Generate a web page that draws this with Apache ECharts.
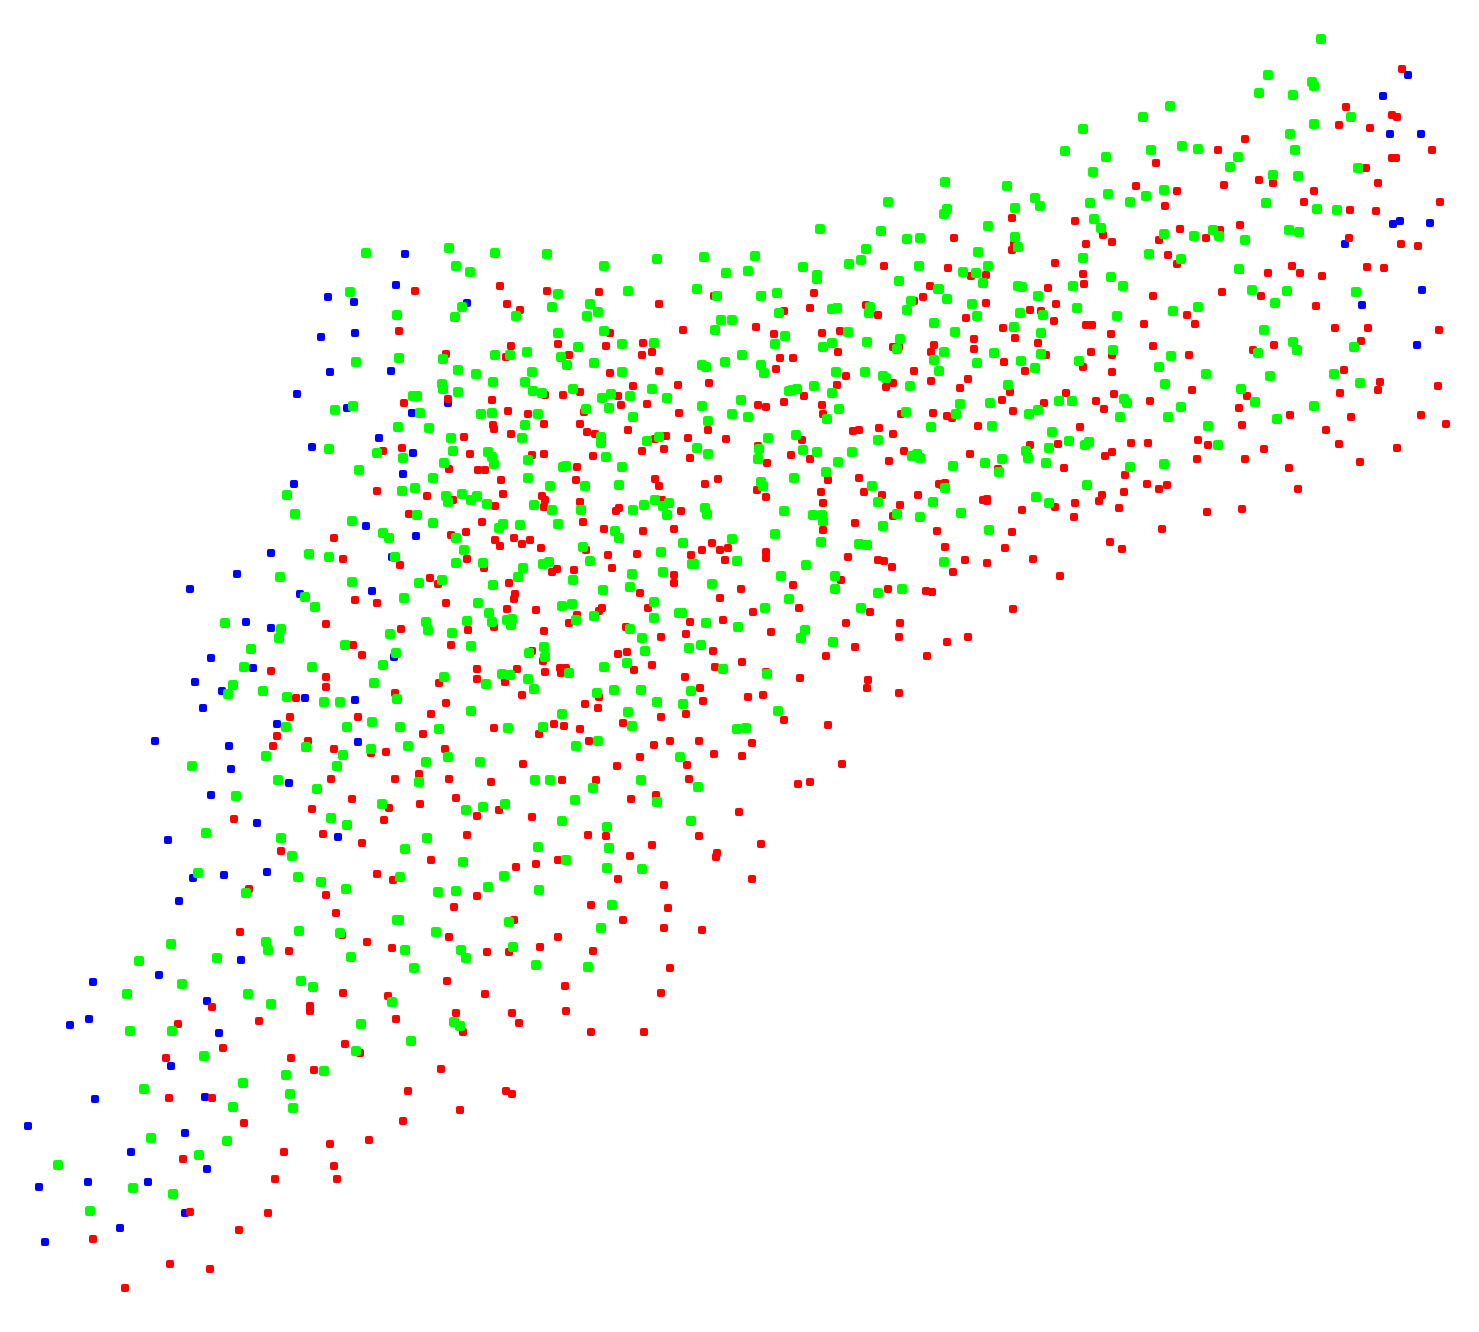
<!DOCTYPE html>
<html>
<head>
<meta charset="utf-8">
<title>scatter</title>
<script src="https://cdn.jsdelivr.net/npm/echarts@6/dist/echarts.min.js"></script>
<style>
html, body { margin: 0; padding: 0; background: #fff; }
#main { width: 1479px; height: 1332px; filter: blur(0.6px); }
</style>
</head>
<body>
<div id="main"></div>
<script>
// values, [x, y]
const bluePoints = [
[179,901],[241,960],[159,975],[93,982],[207,1001],[89,1019],[70,1025],[219,1033],[171,1066],[95,1099],[205,1097],[28,1126],[185,1133],[131,1152],[207,1169],[88,1182],[148,1182],[39,1187],[185,1213],[120,1228],[45,1242],
[271,553],[237,574],[190,589],[300,594],[372,591],[246,622],[271,628],[211,658],[253,668],[195,682],[222,691],[305,698],[355,700],[203,708],[277,724],[155,741],[229,746],[358,742],[231,769],[289,783],[211,795],[257,823],[168,840],[338,837],[193,878],[224,875],[267,872],
[328,297],[354,302],[355,333],[321,337],[330,372],[297,394],[347,408],[379,438],[312,447],[294,484],[366,526],
[405,254],[396,285],[467,303],[391,371],[457,370],[448,403],[412,413],[413,453],[403,474],[416,536],[392,557],[394,657],
[1408,75],[1383,96],[1390,134],[1421,134],[1393,224],[1400,221],[1430,223],[1345,244],[1422,290],[1362,305],[1417,345]
];
const redPoints = [
[336,913],[240,932],[342,935],[289,951],[367,942],[392,948],[343,993],[388,996],[212,1007],[310,1006],[310,1011],[259,1021],[396,1019],[178,1024],[223,1048],[345,1044],[360,1053],[166,1058],[291,1058],[314,1070],[169,1098],[212,1098],[244,1123],[369,1140],[330,1144],[284,1152],[183,1159],[334,1166],[275,1179],[337,1179],[190,1212],[268,1213],[239,1230],[93,1239],[170,1264],[210,1269],[125,1288],
[334,538],[343,559],[355,600],[377,603],[326,624],[353,645],[362,655],[271,671],[326,677],[326,687],[296,698],[290,717],[358,717],[277,736],[273,746],[308,741],[334,749],[371,753],[331,779],[352,799],[312,809],[234,819],[323,834],[362,843],[281,851],[377,874],[249,889],[326,895],[377,491],
[415,291],[500,286],[547,291],[599,292],[659,304],[507,304],[520,310],[399,331],[610,333],[511,346],[558,344],[606,346],[643,343],[642,355],[652,352],[446,354],[506,357],[569,355],[610,373],[659,371],[633,386],[448,399],[492,400],[404,403],[545,395],[563,395],[580,392],[618,396],[621,405],[647,404],[584,412],[508,411],[528,414],[493,425],[494,429],[544,424],[580,424],[587,432],[595,434],[628,430],[511,434],[464,437],[402,448],[383,451],[470,454],[532,455],[544,454],[593,456],[642,451],[655,439],[666,436],[664,449],[449,469],[478,470],[485,470],[577,467],[501,480],[576,480],[655,479],[659,486],[427,496],[503,494],[542,496],[545,500],[544,507],[580,502],[662,500],[453,500],[495,506],[409,514],[619,508],[616,511],
[482,522],[583,522],[466,532],[451,535],[604,529],[643,531],[674,529],[495,540],[514,538],[530,540],[500,546],[522,544],[541,548],[586,550],[608,555],[637,554],[467,559],[400,565],[484,568],[612,568],[557,569],[552,572],[574,570],[430,578],[438,584],[509,583],[674,575],[674,583],[640,593],[515,594],[514,599],[446,603],[507,609],[536,610],[648,608],[602,608],[599,611],[577,615],[569,623],[494,627],[401,629],[468,630],[544,631],[626,627],[661,637],[451,645],[532,651],[618,654],[627,652],[543,661],[652,665],[517,669],[477,669],[560,668],[566,668],[634,670],[545,672],[561,673],[477,679],[439,683],[505,682],[395,693],[522,695],[599,697],[446,703],[585,704],[598,708],[431,714],[661,717],[494,728],[554,724],[564,726],[580,729],[623,723],[423,734],[539,734],[589,741],[670,741],[654,745],[386,752],[445,749],[640,757],[523,764],[617,766],[419,774],[395,779],[449,779],[562,780],[596,780],[491,782],[456,798],[656,795],[631,799],
[389,808],[420,804],[477,816],[499,810],[532,817],[384,820],[588,835],[606,836],[739,812],[699,836],[652,845],[467,835],[630,856],[761,844],[717,853],[716,857],[431,860],[558,860],[536,864],[516,867],[618,879],[664,885],[752,879],[393,880],[477,896],[454,907],[591,905],[668,908],[514,920],[623,920],[664,928],[702,930],[449,937],[558,937],[540,947],[487,952],[509,952],[593,951],[670,968],[447,981],[565,986],[485,994],[661,993],[456,1013],[512,1013],[566,1011],[519,1023],[463,1032],[591,1032],[644,1032],[441,1069],[408,1091],[506,1091],[512,1094],[460,1110],[403,1121],
[884,266],[930,286],[714,296],[762,295],[814,293],[923,297],[914,301],[866,305],[810,308],[784,311],[878,315],[683,330],[756,327],[774,334],[822,333],[840,331],[934,345],[893,347],[899,347],[931,352],[838,352],[780,358],[793,358],[776,369],[914,371],[846,376],[678,385],[709,383],[893,383],[837,385],[931,381],[886,387],[804,396],[784,402],[758,405],[766,407],[822,405],[679,413],[823,414],[901,414],[933,413],[708,430],[853,431],[859,430],[879,428],[893,434],[688,438],[726,439],[802,440],[758,446],[904,451],[690,458],[791,455],[767,463],[810,459],[889,461],[859,478],[718,479],[705,484],[828,480],[757,490],[766,497],[821,492],[864,492],[882,495],[918,495],[939,484],
[823,503],[900,505],[681,511],[893,516],[855,523],[823,530],[937,531],[712,543],[702,550],[720,550],[728,548],[945,547],[691,555],[766,552],[766,558],[848,557],[725,560],[878,560],[884,561],[892,567],[965,560],[953,572],[841,580],[793,585],[741,589],[720,598],[888,589],[926,591],[932,592],[799,608],[753,612],[870,612],[690,622],[723,620],[846,623],[900,623],[771,632],[686,634],[899,637],[968,637],[947,642],[713,651],[855,647],[826,656],[927,656],[742,662],[715,667],[685,677],[766,672],[800,678],[868,680],[867,688],[700,688],[899,693],[703,701],[748,697],[763,695],[686,714],[784,720],[828,725],[699,741],[752,743],[714,754],[742,756],[687,765],[842,764],[689,779],[798,784],[810,782],
[1136,186],[1177,191],[1165,206],[1012,218],[1075,221],[1180,229],[954,238],[1103,235],[1159,240],[1112,242],[1086,244],[1014,244],[1012,250],[1168,255],[1177,264],[1055,263],[948,268],[971,276],[986,275],[1083,274],[1084,284],[1048,288],[1153,296],[1056,304],[986,303],[1030,310],[1041,311],[1187,315],[966,318],[1054,321],[1144,324],[1086,325],[1092,325],[1003,328],[1015,338],[1111,334],[974,339],[974,349],[1038,343],[1153,346],[1091,352],[1112,355],[1046,355],[1189,355],[1004,362],[1083,367],[1025,371],[1112,372],[968,379],[960,388],[1010,392],[1066,393],[1114,394],[1002,400],[1150,401],[1096,401],[1044,403],[1104,409],[1013,411],[947,416],[952,418],[978,426],[1080,427],[1030,445],[1058,444],[1131,443],[1148,443],[970,454],[1112,452],[1105,456],[1028,456],[1064,468],[998,469],
[1125,475],[945,483],[942,485],[1147,484],[1167,485],[1159,489],[1124,492],[1102,495],[987,499],[983,500],[987,501],[1099,501],[1075,503],[1055,507],[1022,510],[1119,508],[1074,517],[1162,529],[1012,532],[1110,542],[1122,549],[1005,548],[1033,559],[987,563],[1060,576],[1013,609],
[1402,69],[1346,107],[1392,115],[1397,117],[1339,125],[1370,128],[1245,139],[1218,150],[1432,150],[1392,158],[1396,158],[1366,168],[1156,163],[1378,183],[1259,180],[1273,183],[1224,185],[1314,191],[1304,202],[1440,202],[1350,210],[1376,211],[1240,225],[1220,230],[1206,238],[1349,238],[1401,244],[1418,246],[1367,267],[1384,268],[1240,270],[1268,273],[1292,266],[1300,273],[1322,276],
[1222,292],[1261,296],[1316,306],[1195,324],[1335,328],[1368,328],[1439,330],[1361,341],[1253,350],[1274,345],[1344,370],[1380,382],[1378,390],[1438,386],[1340,393],[1192,390],[1247,396],[1239,408],[1421,415],[1446,424],[1290,415],[1351,417],[1242,425],[1198,440],[1326,430],[1208,445],[1339,444],[1264,449],[1397,448],[1197,459],[1245,459],[1289,468],[1360,462],[1298,489],[1207,512],[1242,509]
];
const greenPoints = [
[397,920],[299,931],[340,933],[171,944],[266,942],[268,950],[217,958],[139,961],[351,957],[182,984],[301,981],[313,987],[127,994],[248,994],[271,1004],[392,1002],[130,1031],[172,1031],[361,1024],[356,1051],[204,1056],[324,1071],[286,1075],[243,1083],[290,1094],[144,1089],[233,1107],[293,1108],[151,1138],[227,1141],[199,1155],[58,1165],[133,1188],[173,1194],[90,1211],
[309,554],[329,557],[280,577],[352,582],[305,597],[315,607],[225,623],[281,629],[279,638],[251,649],[345,645],[244,667],[312,667],[233,685],[228,694],[263,691],[374,683],[287,697],[324,702],[340,702],[286,727],[347,727],[372,722],[306,747],[371,749],[343,755],[266,756],[337,766],[192,766],[278,780],[317,789],[236,796],[382,804],[331,818],[347,825],[206,833],[281,838],[292,856],[198,873],[298,877],[321,882],[346,889],[246,893],
[366,253],[350,292],[356,362],[353,406],[335,410],[329,449],[377,453],[359,470],[287,495],[295,514],[352,521],
[449,248],[495,253],[547,254],[657,259],[604,266],[456,266],[470,272],[558,294],[628,291],[590,304],[552,307],[598,312],[587,316],[462,307],[455,317],[397,315],[516,316],[558,333],[604,331],[578,347],[622,344],[654,343],[399,358],[443,359],[495,355],[510,355],[527,352],[561,357],[567,365],[594,363],[458,370],[476,374],[532,372],[622,372],[493,382],[525,382],[442,384],[443,389],[458,392],[533,391],[542,393],[573,389],[413,396],[417,396],[652,389],[602,398],[611,394],[630,396],[667,398],[609,408],[586,409],[420,413],[481,414],[492,413],[538,414],[633,417],[398,427],[429,428],[525,425],[451,438],[522,438],[601,437],[601,443],[647,441],[659,437],[453,451],[488,452],[492,457],[403,458],[444,463],[494,464],[528,460],[606,457],[563,467],[566,466],[622,467],[433,478],[528,478],[550,486],[585,486],[619,485],[402,491],[415,488],[446,496],[448,502],[462,494],[471,500],[477,496],[487,504],[534,505],[552,510],[581,510],[655,500],[644,505],[633,510],[669,503],[663,506],[667,515],[417,515],
[433,523],[499,528],[503,524],[520,525],[558,524],[383,533],[389,538],[615,531],[619,538],[456,538],[464,550],[395,557],[583,547],[661,552],[456,563],[483,563],[543,564],[549,562],[590,561],[523,568],[518,577],[632,574],[663,572],[442,580],[419,583],[493,585],[573,580],[630,587],[603,590],[404,598],[478,603],[562,606],[572,604],[654,602],[489,613],[679,613],[594,616],[654,618],[576,620],[426,622],[467,621],[492,622],[507,620],[512,619],[511,625],[428,630],[390,634],[452,633],[630,629],[642,638],[544,647],[471,646],[645,651],[529,653],[396,653],[545,657],[383,665],[627,663],[604,667],[444,677],[502,674],[510,675],[528,679],[569,673],[486,684],[534,689],[597,693],[614,690],[641,690],[397,699],[657,702],[471,711],[562,714],[628,712],[400,727],[439,729],[508,728],[543,727],[632,726],[598,741],[576,746],[408,746],[448,757],[426,762],[480,762],[419,782],[535,780],[550,780],[641,780],[593,788],[505,804],[483,807],[466,810],[575,800],[657,802],
[562,821],[691,821],[607,827],[427,838],[405,849],[538,847],[609,848],[566,860],[463,862],[607,868],[642,869],[504,876],[400,877],[488,887],[539,890],[438,892],[456,891],[612,905],[399,920],[509,922],[601,928],[436,932],[513,947],[405,950],[461,950],[466,958],[414,968],[536,965],[588,967],[454,1022],[460,1026],[411,1041],
[888,202],[820,229],[881,231],[907,239],[920,238],[704,257],[755,256],[726,273],[748,271],[803,267],[866,249],[861,260],[849,264],[919,266],[817,275],[817,279],[899,281],[697,289],[717,296],[777,293],[761,296],[938,289],[832,309],[837,308],[870,307],[869,313],[907,310],[911,301],[779,313],[721,320],[732,320],[715,330],[934,323],[848,332],[785,336],[775,344],[823,347],[832,343],[867,342],[900,339],[897,349],[742,355],[725,362],[702,365],[706,367],[761,365],[764,373],[934,360],[836,372],[865,372],[883,376],[886,378],[939,371],[910,386],[797,389],[792,390],[789,391],[814,386],[832,393],[741,400],[702,406],[732,414],[748,417],[839,409],[708,421],[906,412],[827,419],[931,427],[768,438],[796,435],[878,440],[697,448],[708,454],[759,449],[803,450],[817,452],[852,452],[758,459],[912,456],[917,454],[920,458],[838,462],[826,472],[794,478],[761,482],[763,486],[872,486],
[878,502],[933,502],[705,508],[707,514],[784,511],[813,515],[822,515],[823,521],[897,514],[920,517],[961,513],[883,526],[775,534],[732,539],[683,543],[821,542],[859,544],[867,545],[737,561],[692,564],[694,564],[806,565],[944,562],[781,576],[835,576],[712,584],[835,589],[902,589],[878,593],[789,599],[765,608],[861,608],[682,613],[706,623],[738,627],[805,630],[801,638],[833,642],[689,648],[701,645],[723,669],[767,674],[691,691],[683,704],[778,711],[746,728],[737,729],[680,757],[698,787],
[945,182],[1007,186],[1093,172],[1108,194],[1090,203],[1035,198],[1040,206],[947,209],[944,214],[1015,208],[1130,202],[1146,196],[1164,190],[1094,219],[1101,228],[988,226],[1015,237],[1018,247],[1164,234],[978,252],[1083,258],[1149,254],[1181,259],[988,266],[963,272],[976,273],[983,283],[1111,277],[1123,286],[1018,286],[1022,287],[1073,286],[939,289],[1038,296],[947,299],[972,304],[1077,308],[1173,311],[1020,313],[1043,315],[977,316],[1117,316],[1014,327],[955,332],[1041,333],[944,352],[1113,350],[994,353],[1041,354],[977,363],[1021,361],[1171,356],[1079,361],[1035,368],[1159,367],[1165,384],[1008,385],[960,404],[990,403],[1059,401],[1072,401],[1124,399],[1127,403],[1181,407],[956,414],[1029,414],[1038,410],[1168,417],[1120,417],[992,426],[1052,432],[1069,441],[1089,442],[1085,445],[1049,448],[1026,451],[1028,458],[953,466],[985,463],[1002,459],[1046,463],[1130,467],[1164,464],
[999,472],[945,488],[1087,485],[1036,497],[1049,503],[989,530],
[1321,39],[1268,75],[1312,82],[1314,86],[1259,93],[1293,95],[1170,106],[1143,117],[1083,129],[1314,124],[1351,117],[1290,134],[1065,151],[1151,150],[1182,146],[1198,149],[1295,150],[1106,157],[1238,157],[1230,167],[1358,168],[1273,175],[1298,176],[1266,203],[1317,209],[1337,210],[1194,236],[1213,230],[1219,236],[1245,240],[1289,230],[1299,232],[1239,269],
[1252,290],[1287,291],[1356,292],[1275,303],[1198,307],[1264,330],[1293,342],[1297,350],[1258,353],[1354,347],[1206,374],[1270,376],[1334,374],[1360,383],[1241,389],[1255,402],[1314,406],[1277,419],[1208,426],[1218,445]
];

const chartDom = document.getElementById("main");
const myChart = echarts.init(chartDom);
myChart.setOption({
  animation: false,
  backgroundColor: "#fff",
  // 坐标轴隐藏，画布占满
  grid: { left: 0, right: 0, top: 0, bottom: 0 },
  xAxis: { type: "value", min: 0, max: 1479, show: false },
  yAxis: { type: "value", min: 0, max: 1332, inverse: true, show: false },
  series: [
    {
      name: "blue",
      type: "scatter",
      symbol: "roundRect",
      symbolSize: 8,
      itemStyle: { color: "#0000ff", opacity: 1 },
      data: bluePoints,
    },
    {
      name: "red",
      type: "scatter",
      symbol: "roundRect",
      symbolSize: 8,
      itemStyle: { color: "#ff0000", opacity: 1 },
      data: redPoints,
    },
    {
      name: "green",
      type: "scatter",
      symbol: "roundRect",
      symbolSize: 10,
      itemStyle: { color: "#00ff00", opacity: 1 },
      data: greenPoints,
    },
  ],
});
</script>
</body>
</html>
